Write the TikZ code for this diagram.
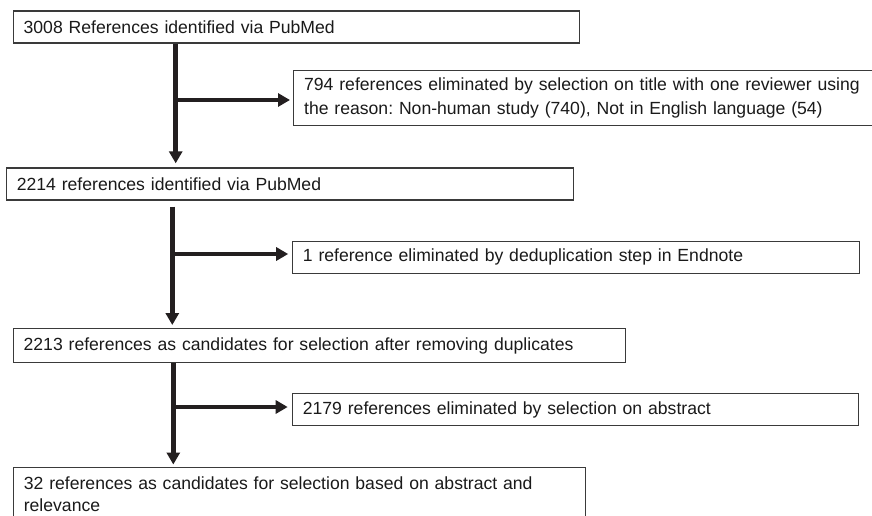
\documentclass[tikz,border=0pt]{standalone}
\usepackage{fontspec}
\setmainfont{Liberation Sans}
\usetikzlibrary{arrows.meta}
\definecolor{boxline}{HTML}{3A3A3A}
\definecolor{arrowc}{HTML}{231F20}
\definecolor{txt}{HTML}{1A1A1A}
\frenchspacing
\begin{document}
\begin{tikzpicture}[x=1pt,y=-1pt,
  fbox/.style={draw=boxline, line width=1.3pt, fill=white, anchor=north west,
    inner xsep=10.5pt, inner ysep=0pt, align=left, text=txt,
    font=\fontsize{17.6}{24}\selectfont},
  flow/.style={draw=arrowc, line width=4.6pt,
    -{Triangle[length=12pt,width=13pt]}}
]
\clip (0,0) rectangle (872,516);
\fill[white] (0,0) rectangle (872,516);

% boxes
\node[fbox, minimum width=566.5pt, minimum height=32pt, text width=545.5pt] (b1) at (12.5,10.5)
  {3008 References identified via PubMed};
\node[fbox, minimum width=600pt, minimum height=55pt, text width=579pt] (b2) at (293,70)
  {794 references eliminated by selection on title with one reviewer using\\the reason: Non-human study (740), Not in English language (54)};
\node[fbox, minimum width=567.3pt, minimum height=32pt, text width=546.3pt] (b3) at (5.7,167.3)
  {2214 references identified via PubMed};
\node[fbox, minimum width=567pt, minimum height=32pt, text width=546pt] (b4) at (291.7,240.7)
  {1 reference eliminated by deduplication step in Endnote};
\node[fbox, minimum width=612.5pt, minimum height=33.7pt, text width=591.5pt] (b5) at (12.5,328)
  {2213 references as candidates for selection after removing duplicates};
\node[fbox, minimum width=566.3pt, minimum height=32.3pt, text width=545.3pt] (b6) at (291.7,392.7)
  {2179 references eliminated by selection on abstract};
\node[fbox, minimum width=572.3pt, minimum height=54pt, text width=551.3pt,
  font=\fontsize{17.6}{22}\selectfont] (b7) at (12.7,467)
  {32 references as candidates for selection based on abstract and\\relevance};

% junctions
\coordinate (j1) at (175.7,100);
\coordinate (j2) at (172.3,254);
\coordinate (j3) at (173.3,407);
\coordinate (s2) at (172.3,206.7);

% connectors
\draw[flow, shorten >=4pt] (b1.south -| j1) -- (b3.north -| j1);
\draw[flow, shorten >=3pt] (j1) -- (j1 -| b2.west);

\draw[flow, shorten >=3pt] (s2) -- (b5.north -| s2);
\draw[flow, shorten >=3.5pt] (j2) -- (j2 -| b4.west);

\draw[flow, shorten >=2.5pt] (b5.south -| j3) -- (b7.north -| j3);
\draw[flow, shorten >=4pt] (j3) -- (j3 -| b6.west);
\end{tikzpicture}
\end{document}
